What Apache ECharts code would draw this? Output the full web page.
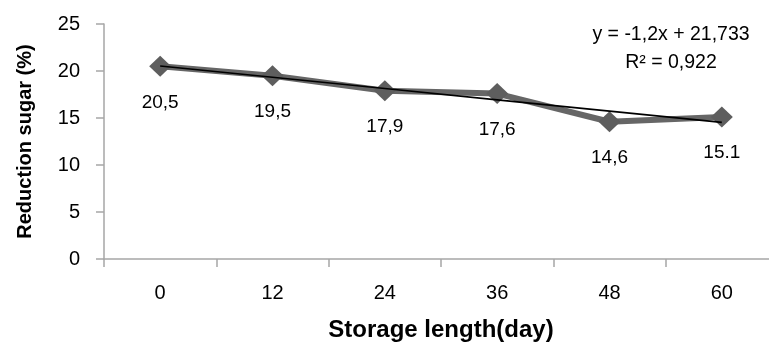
<!DOCTYPE html>
<html>
<head>
<meta charset="utf-8">
<script src="https://cdn.jsdelivr.net/npm/echarts@6/dist/echarts.min.js"></script>
<style>
html,body{margin:0;padding:0;background:#fff;}
#c{width:769px;height:345px;}
</style>
</head>
<body>
<div id="c"></div>
<script>
const categories = ['0', '12', '24', '36', '48', '60'];
const sugarValues = [20.5, 19.5, 17.9, 17.6, 14.6, 15.1];
const sugarLabels = ['20,5', '19,5', '17,9', '17,6', '14,6', '15.1'];
const trendValues = [20.533, 19.333, 18.133, 16.933, 15.733, 14.533];
const yTicks = [0, 5, 10, 15, 20, 25];
const equationText = 'y = -1,2x + 21,733';
const r2Text = 'R² = 0,922';

const FONT = '"Liberation Sans", Arial, sans-serif';
const chart = echarts.init(document.getElementById('c'), null, {renderer: 'canvas'});
const axisColor = '#a6a6a6';

chart.setOption({
  animation: false,
  backgroundColor: '#ffffff',
  textStyle: {fontFamily: FONT},
  grid: {left: 104, top: 24, width: 674, height: 235, containLabel: false, outerBoundsMode: 'none'},
  xAxis: {
    type: 'category',
    data: categories,
    boundaryGap: true,
    name: 'Storage length(day)',
    nameLocation: 'middle',
    nameGap: 59,
    nameTextStyle: {fontFamily: FONT, fontSize: 24, fontWeight: 'bold', color: '#000'},
    axisLine: {lineStyle: {color: axisColor, width: 1.5}},
    axisTick: {show: true, length: 8, lineStyle: {color: axisColor, width: 1.5}},
    axisLabel: {fontFamily: FONT, fontSize: 20, color: '#000', margin: 24},
    splitLine: {show: false}
  },
  yAxis: {
    type: 'value',
    min: yTicks[0],
    max: yTicks[yTicks.length - 1],
    interval: 5,
    name: 'Reduction sugar (%)',
    nameLocation: 'middle',
    nameGap: 69,
    nameTextStyle: {fontFamily: FONT, fontSize: 20, fontWeight: 'bold', color: '#000'},
    axisLine: {show: true, lineStyle: {color: axisColor, width: 1.5}},
    axisTick: {show: true, length: 8, lineStyle: {color: axisColor, width: 1.5}},
    axisLabel: {fontFamily: FONT, fontSize: 20, color: '#000', margin: 24},
    splitLine: {show: false}
  },
  graphic: [
    {type: 'text', x: 671, y: 35, style: {text: equationText, textAlign: 'center', textVerticalAlign: 'middle', fontFamily: FONT, fontSize: 19.5, fill: '#000'}},
    {type: 'text', x: 671, y: 63, style: {text: r2Text, textAlign: 'center', textVerticalAlign: 'middle', fontFamily: FONT, fontSize: 19.5, fill: '#000'}}
  ],
  series: [
    {
      type: 'line',
      data: sugarValues,
      symbol: 'diamond',
      symbolSize: [22, 21],
      itemStyle: {color: '#5e5e5e'},
      lineStyle: {color: '#666666', width: 6},
      label: {
        show: true,
        position: 'bottom',
        distance: 16,
        fontFamily: FONT,
        fontSize: 19,
        color: '#000',
        formatter: p => sugarLabels[p.dataIndex]
      },
      z: 2
    },
    {
      type: 'line',
      data: trendValues,
      symbol: 'none',
      lineStyle: {color: '#000', width: 1.6},
      z: 3,
      silent: true
    }
  ]
});
</script>
</body>
</html>
